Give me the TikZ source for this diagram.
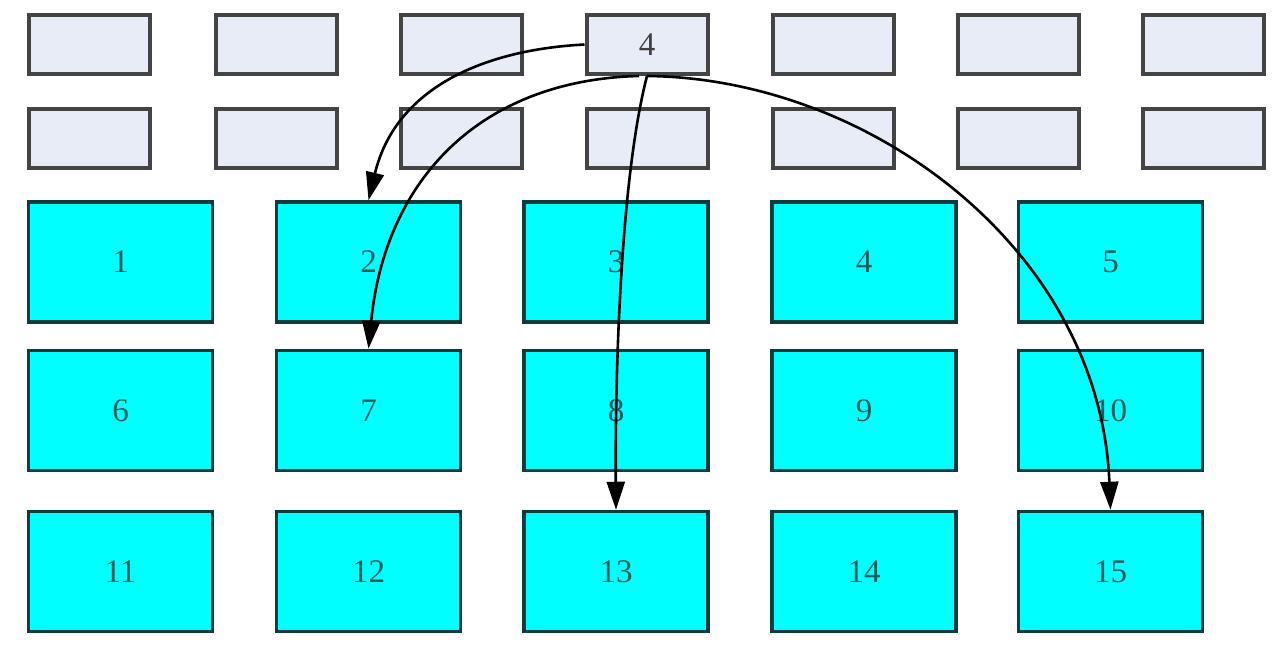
\documentclass[tikz,border=0pt]{standalone}
\usepackage{fontspec}
\setmainfont{Liberation Serif}
\usetikzlibrary{arrows.meta}
\definecolor{lightbox}{HTML}{E8ECF7}
\definecolor{lightedge}{HTML}{444444}
\definecolor{cyanbox}{HTML}{00FFFF}
\definecolor{cyanedge}{HTML}{0E3C3C}
\definecolor{cyantext}{HTML}{1E5A5A}
\begin{document}
\begin{tikzpicture}[x=1pt,y=-1pt,
  topbox/.style={draw=lightedge,fill=lightbox,line width=4pt,minimum width=121pt,minimum height=59pt,inner sep=0pt,
    text=black!75,font=\fontsize{33}{35}\selectfont},
  cellbox/.style={draw=cyanedge,fill=cyanbox,line width=3.5pt,minimum width=184pt,minimum height=120pt,inner sep=0pt,
    text=cyantext,font=\fontsize{33}{35}\selectfont},
  link/.style={line width=2.6pt,-{Triangle[length=28pt,width=18pt]}}]
\useasboundingbox (0,0) rectangle (1278,652);
\fill[white] (0,0) rectangle (1278,652);
% top rows
\foreach \i/\x in {1/89.5,2/276,3/461,4/647,5/833,6/1018,7/1203}{
  \node[topbox] (s\i) at (\x,138.5) {};
}
\foreach \i/\x in {1/89.5,2/276,3/461,5/833,6/1018,7/1203}{
  \node[topbox] (t\i) at (\x,44.5) {};
}
\node[topbox] (t4) at (647,44.5) {4};
% cyan grid
\foreach \r/\y in {0/262,1/410.5,2/571.5}{
  \foreach \c/\x in {1/120.5,2/368.5,3/616,4/864,5/1110.5}{
    \pgfmathtruncatemacro{\n}{\r*5+\c}
    \node[cellbox] (c\n) at (\x,\y) {\n};
  }
}
% arrows
\draw[link] (t4.west) .. controls (480,50) and (395,90) .. (c2.north);
\draw[link] ([xshift=-8pt]t4.south) .. controls (480,80) and (385,180) .. (c7.north);
\draw[link] (t4.south) .. controls (620,180) and (615,380) .. (c13.north);
\draw[link] (t4.south) .. controls (870,78) and (1100,250) .. (c15.north);
\end{tikzpicture}
\end{document}
